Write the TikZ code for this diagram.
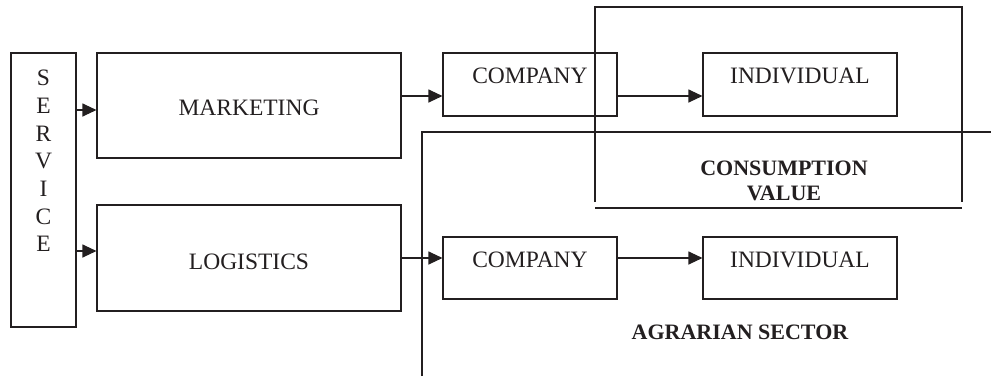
\documentclass[tikz,border=0pt]{standalone}
\usepackage{fontspec}
\setmainfont{Liberation Serif}
\usetikzlibrary{arrows.meta,calc}
\definecolor{ink}{RGB}{35,31,32}
\begin{document}
\begin{tikzpicture}[x=1pt,y=-1pt,
  line width=1.1pt, draw=ink,
  box/.style={draw=ink, line width=1.1pt, inner sep=0pt},
  lbl/.style={inner sep=0pt, anchor=base, text=ink, font=\fontsize{23.5}{27.7}\selectfont},
  blbl/.style={inner sep=0pt, anchor=base, text=ink, font=\fontsize{22}{25}\selectfont\bfseries},
  arr/.style={draw=ink, line width=1.1pt, -{Triangle[length=14pt,width=13pt]}}]
\useasboundingbox (0,0) rectangle (991,376);
% boxes
\node[box, minimum width=65pt, minimum height=274pt] (service) at (43.5,190) {};
\node[box, minimum width=304pt, minimum height=105pt] (marketing) at (249,105.5) {};
\node[box, minimum width=304pt, minimum height=106pt] (logistics) at (249,258) {};
\node[box, minimum width=174pt, minimum height=63pt] (comp1) at (530,84.5) {};
\node[box, minimum width=194pt, minimum height=63pt] (ind1) at (800,84.5) {};
\node[box, minimum width=174pt, minimum height=62pt] (comp2) at (530,268) {};
\node[box, minimum width=194pt, minimum height=62pt] (ind2) at (800,268) {};
% texts
\node[inner sep=0pt, anchor=north, align=center, text=ink, font=\fontsize{23.5}{27.7}\selectfont] (servicetext) at (43.5,69.5) {S\\E\\R\\V\\I\\C\\E};
\node[lbl] (markettext) at (249,115.8) {MARKETING};
\node[lbl] (logtext) at (249,269.8) {LOGISTICS};
\node[lbl] (comp1text) at (530,83.8) {COMPANY};
\node[lbl] (ind1text) at (800,83.8) {INDIVIDUAL};
\node[lbl] (comp2text) at (530,267.8) {COMPANY};
\node[lbl] (ind2text) at (800,267.8) {INDIVIDUAL};
\node[blbl] (constext) at (784,175.4) {CONSUMPTION};
\node[blbl] (valtext) at (784,200.4) {VALUE};
\node[blbl] (agrtext) at (740,339.4) {AGRARIAN SECTOR};
% consumption value frame
\coordinate (cvbl) at (595,202);
\coordinate (cvtl) at (595,7);
\coordinate (cvtr) at (962,7);
\coordinate (cvbr) at (962,202);
\coordinate (cvl) at (595,208);
\coordinate (cvr) at (962,208);
\draw[ink] (cvbl) -- (cvtl) -- (cvtr) -- (cvbr);
\draw[ink] (cvl) -- (cvr);
% agrarian L line
\coordinate (lb) at (422,376);
\coordinate (lc) at (422,132);
\coordinate (lr) at (991,132);
\draw[ink] (lb) -- (lc) -- (lr);
% arrow levels
\coordinate (y1) at (0,110);
\coordinate (y2) at (0,251);
\coordinate (y3) at (0,96);
\coordinate (y4) at (0,258);
\draw[arr] (service.east |- y1) -- (marketing.west |- y1);
\draw[arr] (service.east |- y2) -- (logistics.west |- y2);
\draw[arr] (marketing.east |- y3) -- (comp1.west |- y3);
\draw[arr] (comp1.east |- y3) -- (ind1.west |- y3);
\draw[arr] (logistics.east |- y4) -- (comp2.west |- y4);
\draw[arr] (comp2.east |- y4) -- (ind2.west |- y4);
\end{tikzpicture}
\end{document}
